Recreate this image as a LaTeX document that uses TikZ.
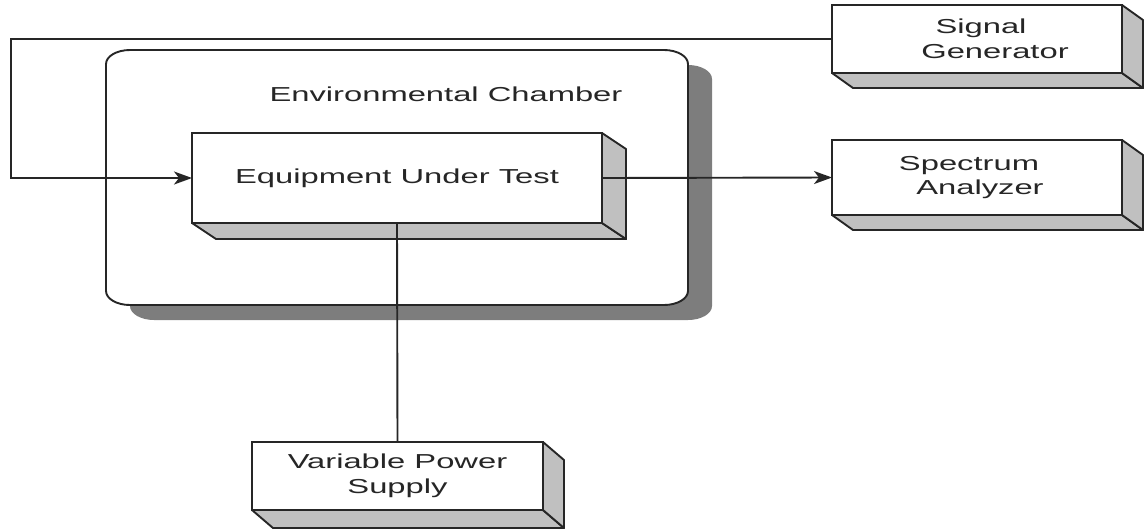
\documentclass[tikz,border=0pt]{standalone}
\usepackage{fontspec}
\newfontfamily\diagfont[FakeStretch=1.62]{Liberation Sans}
\usetikzlibrary{arrows.meta}
\definecolor{ink}{HTML}{262626}
\definecolor{sideface}{HTML}{C0C0C0}
\definecolor{shadowgray}{HTML}{7D7D7D}
\tikzset{
  ln/.style={draw=ink, line width=1.9pt},
  face/.style={ln, fill=white, rectangle, outer sep=0pt, inner sep=2pt,
    align=center, text=ink, font=\diagfont\fontsize{20.2}{24.5}\selectfont},
  side/.style={ln, fill=sideface, line join=round},
  conn/.style={ln},
  arr/.style={ln, -{Stealth[length=18pt,width=13pt,inset=5pt]}},
  lbl/.style={text=ink, font=\diagfont\fontsize{20.2}{24.5}\selectfont}
}
\newcommand\boxdepth[3]{%
  \draw[side] (#1.south west) -- (#1.south east) -- ++(#2,#3)
     -- ([shift={(#2,#3)}]#1.south west) -- cycle;
  \draw[side] (#1.north east) -- ++(#2,#3)
     -- ([shift={(#2,#3)}]#1.south east) -- (#1.south east) -- cycle;}
\begin{document}
\begin{tikzpicture}[x=1pt,y=-1pt]
\useasboundingbox (0,0) rectangle (1144,531);
% chamber shadow
\fill[shadowgray, shift={(24,15)}]
  (130,50) -- (664,50) .. controls (677.25,50) and (688,56.27) .. (688,64)
  -- (688,291) .. controls (688,298.73) and (677.25,305) .. (664,305)
  -- (130,305) .. controls (116.75,305) and (106,298.73) .. (106,291)
  -- (106,64) .. controls (106,56.27) and (116.75,50) .. (130,50) -- cycle;
% chamber
\draw[ln, fill=white]
  (130,50) -- (664,50) .. controls (677.25,50) and (688,56.27) .. (688,64)
  -- (688,291) .. controls (688,298.73) and (677.25,305) .. (664,305)
  -- (130,305) .. controls (116.75,305) and (106,298.73) .. (106,291)
  -- (106,64) .. controls (106,56.27) and (116.75,50) .. (130,50) -- cycle;
\node[lbl] (chlabel) at (446,94) {Environmental Chamber};
% boxes
\node[face, minimum width=410, minimum height=90] (eut) at (397,178) {\raisebox{-2pt}{Equipment Under Test}};
\boxdepth{eut}{24}{16}
\node[face, minimum width=290, minimum height=68] (sg) at (977,39) {\hspace*{8pt}Signal\\\hspace*{36pt}Generator};
\boxdepth{sg}{21}{15}
\node[face, minimum width=290, minimum height=75] (sa) at (977,177.5) {Spectrum\hspace*{16pt}\\\hspace*{6pt}Analyzer};
\boxdepth{sa}{21}{15}
\node[face, minimum width=291, minimum height=68] (ps) at (397.5,476) {Variable Power\\Supply};
\boxdepth{ps}{21}{18}
% connectors
\coordinate (c1) at (11,39);
\coordinate (c2) at (11,178);
\draw[arr] (sg.west) -- (c1) -- (c2) -- (eut.west);
\draw[arr] (eut.east) -- (sa.west);
\draw[conn] (eut.south) -- (ps.north);
\end{tikzpicture}
\end{document}
